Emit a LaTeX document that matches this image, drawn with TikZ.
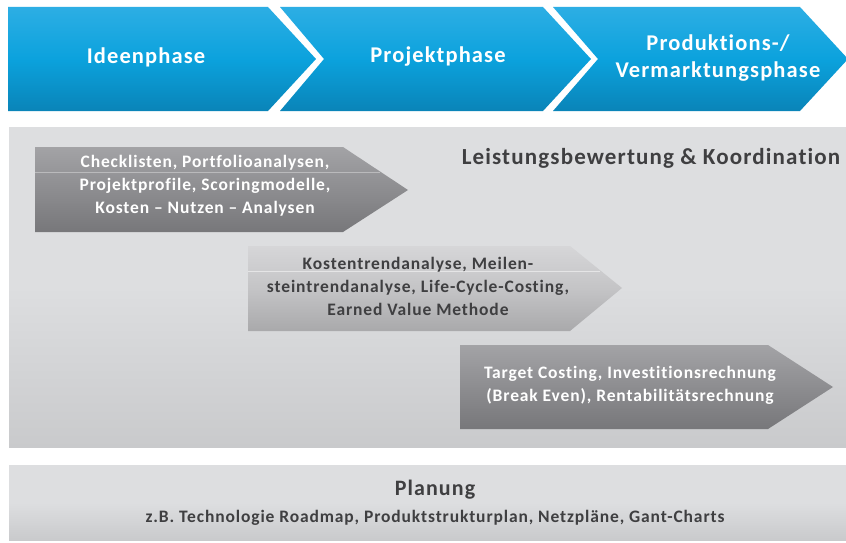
\documentclass[tikz,border=0pt]{standalone}
\usepackage{fontspec}
\setmainfont{Carlito}
\newfontfamily\lsfont[LetterSpace=5,Ligatures={NoCommon,NoDiscretionary,NoContextual}]{Carlito}
\definecolor{bluetop}{HTML}{2DAEE4}
\definecolor{bluemid}{HTML}{0BA2DD}
\definecolor{bluebot}{HTML}{0A84B8}
\definecolor{panel}{HTML}{DDDEE0}
\definecolor{panelbot}{HTML}{C9CACC}
\definecolor{darktop}{HTML}{A3A3A6}
\definecolor{darkmid}{HTML}{8D8D90}
\definecolor{darkbot}{HTML}{77777A}
\definecolor{lighttop}{HTML}{D6D6D8}
\definecolor{lightmid}{HTML}{C4C4C6}
\definecolor{lightbot}{HTML}{A9A9AB}
\definecolor{txtdark}{HTML}{3F3F41}
\begin{document}
\begin{tikzpicture}[x=1pt,y=-1pt,
  phasetext/.style={font=\lsfont\bfseries\fontsize{22.5}{27}\selectfont, text=white, align=center},
  arrowtext/.style={font=\lsfont\bfseries\fontsize{17.5}{23}\selectfont, align=center},
  bluefill/.style={top color=bluetop, bottom color=bluebot, middle color=bluemid},
  darkfill/.style={top color=darktop, bottom color=darkbot, middle color=darkmid},
  lightfill/.style={top color=lighttop, bottom color=lightbot, middle color=lightmid},
  panelfill/.style={top color=panel, bottom color=panelbot, middle color=panel}]
\useasboundingbox (0,0) rectangle (846,543);
\fill[white] (0,0) rectangle (846,543);
% phase chevrons
\shade[bluefill] (8,7) -- (268,7) -- (316,59) -- (268,111) -- (8,111) -- cycle;
\shade[bluefill] (280,7) -- (543,7) -- (591,59) -- (543,111) -- (280,111) -- (324,59) -- cycle;
\shade[bluefill] (553,7) -- (800,7) -- (848,59) -- (800,111) -- (553,111) -- (598,59) -- cycle;
\node[phasetext] (p1) at (146,57) {Ideenphase};
\node[phasetext] (p2) at (438,57) {Projektphase};
\node[phasetext] (p3) at (718,58) {Produktions-/\\Vermarktungsphase};
% main panel
\shade[panelfill] (9,127) rectangle (846,447);
\node[font=\lsfont\bfseries\fontsize{23}{27}\selectfont, text=txtdark] (lk) at (651,158) {Leistungsbewertung \& Koordination};
% arrow 1
\shade[darkfill] (35,147) -- (343,147) -- (408,190) -- (343,232) -- (35,232) -- cycle;
\draw[white, opacity=0.35, line width=0.8pt] (35,172) -- (380,172);
\node[arrowtext, text=white] (a1) at (205,186) {Checklisten, Portfolioanalysen,\\Projektprofile, Scoringmodelle,\\Kosten – Nutzen – Analysen};
% arrow 2
\shade[lightfill] (248,246) -- (570,246) -- (622,288) -- (570,331) -- (248,331) -- cycle;
\draw[white, opacity=0.5, line width=0.8pt] (248,271) -- (600,271);
\node[arrowtext, text=txtdark] (a2) at (418,286) {Kostentrendanalyse, Meilen-\\steintrendanalyse, Life-Cycle-Costing,\\Earned Value Methode};
% arrow 3
\shade[darkfill] (460,345) -- (768,345) -- (833,387) -- (768,429) -- (460,429) -- cycle;
\node[arrowtext, text=white] (a3) at (630,385) {Target Costing, Investitionsrechnung\\(Break Even), Rentabilitätsrechnung};
% planning panel
\shade[panelfill] (9,465) rectangle (846,540);
\node[font=\lsfont\bfseries\fontsize{22}{26}\selectfont, text=txtdark] (pl) at (435,490) {Planung};
\node[font=\lsfont\bfseries\fontsize{17.5}{20}\selectfont, text=txtdark] (pls) at (435,518) {z.B. Technologie Roadmap, Produktstrukturplan, Netzpläne, Gant-Charts};
\end{tikzpicture}
\end{document}
